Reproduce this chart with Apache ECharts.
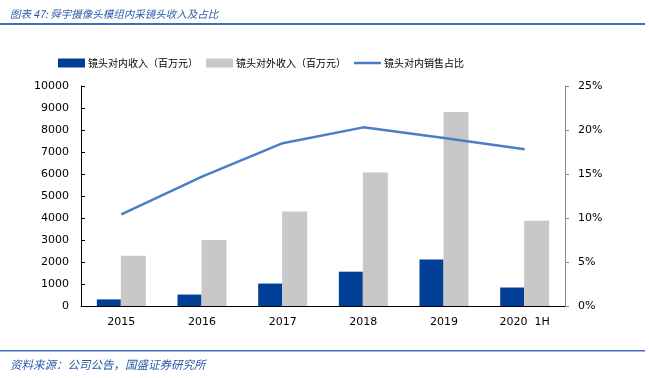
<!DOCTYPE html>
<html><head><meta charset="utf-8">
<script src="https://cdn.jsdelivr.net/npm/echarts@6/dist/echarts.min.js"></script>
<style>html,body{margin:0;padding:0;background:#fff}#c{width:649px;height:378px}</style>
</head><body><div id="c"></div>
<script>
const categories = ['2015','2016','2017','2018','2019','2020  1H'];
const internalRevenue = [300, 520, 1020, 1560, 2110, 840];
const externalRevenue = [2280, 3000, 4300, 6070, 8820, 3880];
const internalShare = [10.4, 14.7, 18.5, 20.3, 19.1, 17.8];
const leftTicks = {min: 0, max: 10000, interval: 1000};
const rightTicks = {min: 0, max: 25, interval: 5};

const chart = echarts.init(document.getElementById('c'), null, {renderer: 'canvas'});
const cjk = '"Noto Sans CJK SC", sans-serif';
const num = '"DejaVu Sans", sans-serif';
chart.setOption({
  animation: false,
  title: [
    {text: '图表 47: 舜宇摄像头模组内采镜头收入及占比', left: 5, top: 4,
     textStyle: {fontFamily: cjk, fontSize: 10.5, fontStyle: 'italic', fontWeight: 'normal', color: '#2a5ba8'}},
    {text: '资料来源：公司公告，国盛证券研究所', left: 5, top: 354,
     textStyle: {fontFamily: cjk, fontSize: 11.5, fontStyle: 'italic', fontWeight: 'normal', color: '#2a5ba8'}}
  ],
  graphic: [
    {type: 'rect', shape: {x: 0, y: 23, width: 645, height: 2}, style: {fill: '#3d6fb6'}},
    {type: 'rect', shape: {x: 0, y: 350, width: 645, height: 1.5}, style: {fill: '#3d6fb6'}}
  ],
  legend: {
    top: 53, left: 53, itemWidth: 27, itemHeight: 9, itemGap: 8,
    textStyle: {fontFamily: cjk, fontSize: 10, color: '#000', padding: [0, 0, 0, -2]},
    data: [
      {name: '镜头对内收入（百万元）', icon: 'rect'},
      {name: '镜头对外收入（百万元）', icon: 'rect'},
      {name: '镜头对内销售占比', icon: 'path://M0,0 L27,0 L27,2.5 L0,2.5 Z'}
    ]
  },
  grid: {left: 81, right: 84, top: 86, bottom: 72},
  xAxis: {
    type: 'category', data: categories, boundaryGap: true,
    axisLine: {lineStyle: {color: '#000', width: 1}},
    axisTick: {inside: true, length: 4, lineStyle: {color: '#000'}},
    axisLabel: {fontFamily: num, fontSize: 11, color: '#000', margin: 11}
  },
  yAxis: [
    {type: 'value', min: leftTicks.min, max: leftTicks.max, interval: leftTicks.interval,
     axisLine: {show: true, lineStyle: {color: '#000'}},
     axisTick: {show: true, inside: true, length: 4, lineStyle: {color: '#000'}},
     splitLine: {show: false},
     axisLabel: {fontFamily: num, fontSize: 11, color: '#000', margin: 12, formatter: v => String(v)}},
    {type: 'value', min: rightTicks.min, max: rightTicks.max, interval: rightTicks.interval,
     axisLine: {show: true, lineStyle: {color: '#888'}},
     axisTick: {show: true, inside: false, length: 4, lineStyle: {color: '#888'}},
     splitLine: {show: false},
     axisLabel: {fontFamily: num, fontSize: 11, color: '#000', margin: 13, formatter: '{value}%'}}
  ],
  series: [
    {name: '镜头对内收入（百万元）', type: 'bar', data: internalRevenue, barWidth: 24, barGap: '0%',
     itemStyle: {color: '#003f95'}},
    {name: '镜头对外收入（百万元）', type: 'bar', data: externalRevenue, barWidth: 25, barGap: '0%',
     itemStyle: {color: '#c8c8c8'}},
    {name: '镜头对内销售占比', type: 'line', yAxisIndex: 1, data: internalShare,
     symbol: 'none', lineStyle: {color: '#4a7ec6', width: 2.5}, itemStyle: {color: '#4a7ec6'}}
  ]
});
</script></body></html>
